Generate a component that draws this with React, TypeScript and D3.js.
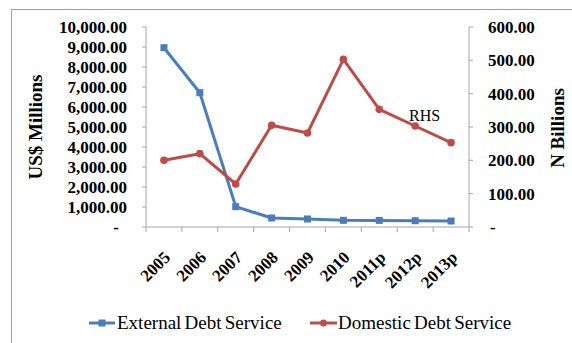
import React from "react";
import * as d3 from "d3";

const categories = ["2005", "2006", "2007", "2008", "2009", "2010", "2011p", "2012p", "2013p"];
const externalDebt = [8965, 6715, 1017, 450, 400, 333, 330, 315, 300];
const domesticDebt = [200, 220, 129, 305, 282, 503, 353, 303, 253];
const leftTicks = [0, 1000, 2000, 3000, 4000, 5000, 6000, 7000, 8000, 9000, 10000];
const rightTicks = [0, 100, 200, 300, 400, 500, 600];

const W = 572, H = 343;
const x0 = 146, x1 = 469, yTop = 27, yBot = 227;
const blue = "#4a7ebb", red = "#be4b48", axisCol = "#a6a6a6";
const font = "Liberation Serif, DejaVu Serif, serif";

export default function App() {
  const x = d3.scaleBand().domain(categories).range([x0, x1]);
  const yL = d3.scaleLinear().domain([0, 10000]).range([yBot, yTop]);
  const yR = d3.scaleLinear().domain([0, 600]).range([yBot, yTop]);
  const cx = (c: string) => (x(c) as number) + x.bandwidth() / 2;
  const fmt = d3.format(",.2f");

  const lineL = d3.line<number>().x((_, i) => cx(categories[i])).y((d) => yL(d));
  const lineR = d3.line<number>().x((_, i) => cx(categories[i])).y((d) => yR(d));
  const boundaries = d3.range(categories.length + 1).map((i) => x0 + i * x.step());

  return (
    <svg width={W} height={H} style={{ position: "absolute", left: 0, top: 0, fontFamily: font }}>
      <rect x={0} y={0} width={W} height={H} fill="#fff" />
      <rect x={11.5} y={9.5} width={W + 20} height={H + 20} fill="none" stroke="#a0a0a0" strokeWidth={1} />

      {/* axes */}
      <line x1={x0} x2={x0} y1={yTop} y2={yBot} stroke={axisCol} />
      <line x1={x1} x2={x1} y1={yTop} y2={yBot} stroke={axisCol} />
      <line x1={x0} x2={x1} y1={yBot} y2={yBot} stroke={axisCol} />
      {leftTicks.map((t) => (
        <g key={"l" + t}>
          <line x1={x0 - 4} x2={x0} y1={yL(t)} y2={yL(t)} stroke={axisCol} />
          <text x={t === 0 ? 119 : 127} y={yL(t)} dy="0.35em" textAnchor="end" fontSize={17} fontWeight="bold">
            {t === 0 ? "-" : fmt(t)}
          </text>
        </g>
      ))}
      {rightTicks.map((t) => (
        <g key={"r" + t}>
          <line x1={x1} x2={x1 + 4} y1={yR(t)} y2={yR(t)} stroke={axisCol} />
          <text x={t === 0 ? 490 : 488} y={yR(t)} dy="0.35em" textAnchor="start" fontSize={17} fontWeight="bold">
            {t === 0 ? "-" : fmt(t)}
          </text>
        </g>
      ))}
      {boundaries.map((b, i) => (
        <line key={"b" + i} x1={b} x2={b} y1={yBot} y2={yBot + 5} stroke={axisCol} />
      ))}
      {categories.map((c) => (
        <text key={c} transform={`translate(${cx(c) - 1},${yBot + 23}) rotate(-45)`} textAnchor="end" dy="0.7em"
          fontSize={17} fontWeight="bold">
          {c}
        </text>
      ))}

      {/* titles */}
      <text transform={`translate(42,127) rotate(-90)`} textAnchor="middle" fontSize={19} fontWeight="bold">
        US$ Millions
      </text>
      <text transform={`translate(564,128) rotate(-90)`} textAnchor="middle" fontSize={19} fontWeight="bold">
        N Billions
      </text>

      {/* series */}
      <path d={lineL(externalDebt) as string} fill="none" stroke={blue} strokeWidth={3} strokeLinejoin="round" />
      {externalDebt.map((v, i) => (
        <rect key={"s" + i} x={cx(categories[i]) - 3.5} y={yL(v) - 3.5} width={7} height={7} fill={blue} />
      ))}
      <path d={lineR(domesticDebt) as string} fill="none" stroke={red} strokeWidth={3} strokeLinejoin="round" />
      {domesticDebt.map((v, i) => (
        <circle key={"c" + i} cx={cx(categories[i])} cy={yR(v)} r={3.8} fill={red} />
      ))}
      <text x={409} y={121} fontSize={16}>RHS</text>

      {/* legend */}
      <line x1={89} x2={115} y1={323} y2={323} stroke={blue} strokeWidth={3} />
      <rect x={98.5} y={319.5} width={7} height={7} fill={blue} />
      <text x={117} y={329} fontSize={19} wordSpacing={-1.5}>External Debt Service</text>
      <line x1={310} x2={337} y1={323} y2={323} stroke={red} strokeWidth={3} />
      <circle cx={323.5} cy={323} r={3.5} fill={red} />
      <text x={338} y={329} fontSize={19} wordSpacing={-1.5}>Domestic Debt Service</text>
    </svg>
  );
}
